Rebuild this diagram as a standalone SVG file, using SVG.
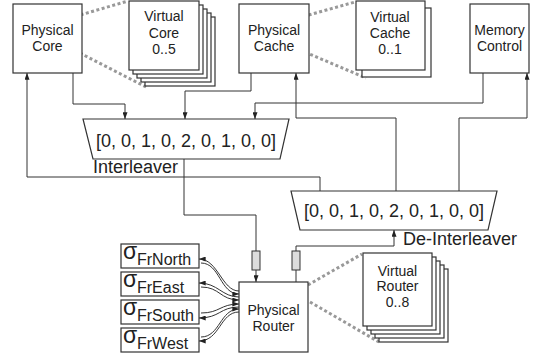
<svg xmlns="http://www.w3.org/2000/svg" width="541" height="354" viewBox="0 0 541 354">
<defs>
<marker id="ah" viewBox="0 0 8 6" refX="8" refY="3" markerWidth="7" markerHeight="5" markerUnits="userSpaceOnUse" orient="auto">
<path d="M0,0 L8,3 L0,6 z" fill="#222"/>
</marker>
<style>
.box{fill:#fff;stroke:#333;stroke-width:1.2}
.t{font-family:"Liberation Sans",Arial,sans-serif;font-size:14px;fill:#222;text-anchor:middle}
.big{font-family:"Liberation Sans",Arial,sans-serif;font-size:18px;fill:#222}
.c{fill:none;stroke:#333;stroke-width:1}
.a{marker-end:url(#ah)}
.dot{fill:none;stroke:#999;stroke-width:3;stroke-dasharray:3 2.5}
.res{fill:#ddd;stroke:#333;stroke-width:1}
.sg{font-family:"Liberation Sans",Arial,sans-serif;font-size:23px;fill:#222}
.sub{font-family:"Liberation Sans",Arial,sans-serif;font-size:16px;fill:#222}
</style>
</defs>
<rect width="541" height="354" fill="#fff"/>

<g id="dotted">
<path class="dot" d="M70,18 L128,1"/>
<path class="dot" d="M70,48 L146,87"/>
<path class="dot" d="M298,18 L355,2"/>
<path class="dot" d="M300,50 L366,78"/>
<path class="dot" d="M308,285 L362,254"/>
<path class="dot" d="M310,302 L379,342"/>
</g>

<g id="connectors">
<path class="c a" d="M73,73 V104 H125 V119"/>
<path class="c a" d="M251,73 V91 H185 V119"/>
<path class="c a" d="M483,73 V103 H255 V119"/>
<path class="c" d="M184,159 V215 H256 V251"/>
<path class="c a" d="M256,270 V282"/>
<path class="c" d="M296,282 V270"/>
<path class="c a" d="M296,251 V246 H394 V230"/>
<path class="c a" d="M320,191 V177 H27 V73"/>
<path class="c a" d="M396,191 V118 H296 V73"/>
<path class="c a" d="M459,191 V118 H527 V73"/>
<rect class="res" x="252" y="251" width="8" height="19"/>
<rect class="res" x="292" y="251" width="8" height="19"/>
<path class="c a" d="M239,291 C222,291 218,259 199,259"/>
<path class="c a" d="M201,263 C220,263 220,294 239,294"/>
<path class="c a" d="M239,297 C222,297 218,283 199,283"/>
<path class="c a" d="M201,287 C220,287 220,300 239,300"/>
<path class="c a" d="M201,313 C220,313 220,304 239,304"/>
<path class="c a" d="M239,307 C220,307 220,318 199,318"/>
<path class="c a" d="M201,337 C220,337 220,309 239,309"/>
<path class="c a" d="M239,312 C220,312 220,341 199,341"/>
</g>

<g id="physical-core">
<rect class="box" x="13" y="4" width="69" height="69"/>
<text class="t" x="47.5" y="35">Physical</text>
<text class="t" x="47.5" y="51">Core</text>
</g>

<g id="virtual-core">
<rect class="box" x="145" y="17" width="70" height="69"/>
<rect class="box" x="141" y="13" width="70" height="69"/>
<rect class="box" x="137" y="9" width="70" height="69"/>
<rect class="box" x="133" y="5" width="70" height="69"/>
<rect class="box" x="129" y="1" width="70" height="69"/>
<text class="t" x="164" y="21">Virtual</text>
<text class="t" x="164" y="38">Core</text>
<text class="t" x="164" y="54">0..5</text>
</g>

<g id="physical-cache">
<rect class="box" x="239" y="4" width="70" height="69"/>
<text class="t" x="274" y="35">Physical</text>
<text class="t" x="274" y="51">Cache</text>
</g>

<g id="virtual-cache">
<rect class="box" x="362" y="8" width="69" height="69"/>
<rect class="box" x="356" y="1" width="69" height="69"/>
<text class="t" x="390" y="22">Virtual</text>
<text class="t" x="390" y="38">Cache</text>
<text class="t" x="390" y="54">0..1</text>
</g>

<g id="memory-control">
<rect class="box" x="470" y="4" width="59" height="69"/>
<text class="t" x="499.5" y="35">Memory</text>
<text class="t" x="499.5" y="51">Control</text>
</g>

<g id="interleaver">
<polygon class="box" points="83,119 289,119 280,159 93,159"/>
<text class="big" x="186" y="147" text-anchor="middle">[0, 0, 1, 0, 2, 0, 1, 0, 0]</text>
<text class="big" x="93" y="173">Interleaver</text>
</g>

<g id="de-interleaver">
<polygon class="box" points="291,191 497,191 488,230 300,230"/>
<text class="big" x="394" y="217" text-anchor="middle">[0, 0, 1, 0, 2, 0, 1, 0, 0]</text>
<text class="big" x="403" y="245">De-Interleaver</text>
</g>

<g id="physical-router">
<rect class="box" x="239" y="282" width="69" height="70"/>
<text class="t" x="273.5" y="315">Physical</text>
<text class="t" x="273.5" y="331">Router</text>
</g>

<g id="virtual-router">
<rect class="box" x="379" y="269" width="69" height="73"/>
<rect class="box" x="375" y="265" width="69" height="73"/>
<rect class="box" x="371" y="261" width="69" height="73"/>
<rect class="box" x="367" y="257" width="69" height="73"/>
<rect class="box" x="363" y="253" width="69" height="73"/>
<text class="t" x="397.5" y="276">Virtual</text>
<text class="t" x="397.5" y="291">Router</text>
<text class="t" x="397.5" y="307">0..8</text>
</g>

<g id="sigma-north">
<rect class="box" x="121" y="244" width="78" height="24"/>
<text class="sg" x="123" y="259">σ</text>
<text class="sub" x="137" y="265">FrNorth</text>
</g>
<g id="sigma-east">
<rect class="box" x="121" y="272" width="78" height="24"/>
<text class="sg" x="123" y="287">σ</text>
<text class="sub" x="137" y="293">FrEast</text>
</g>
<g id="sigma-south">
<rect class="box" x="121" y="300" width="78" height="24"/>
<text class="sg" x="123" y="315">σ</text>
<text class="sub" x="137" y="321">FrSouth</text>
</g>
<g id="sigma-west">
<rect class="box" x="121" y="328" width="78" height="24"/>
<text class="sg" x="123" y="343">σ</text>
<text class="sub" x="137" y="349">FrWest</text>
</g>
</svg>
